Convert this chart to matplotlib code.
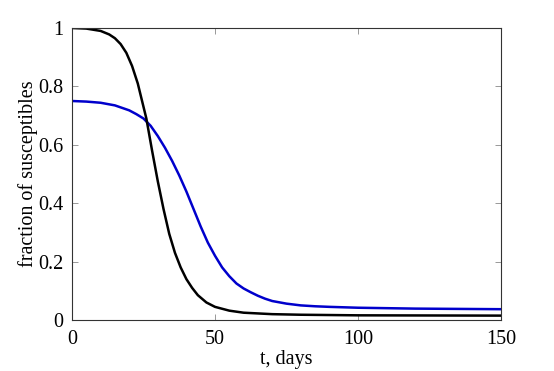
import matplotlib
matplotlib.use("Agg")
import matplotlib.pyplot as plt

t_black = [0, 5, 10, 13, 15, 17, 19, 21, 23, 24.5, 26, 28, 30, 32, 34, 36, 38, 40, 42, 44, 47, 50, 55, 60, 70, 80, 100, 150]
s_black = [1.0, 0.998, 0.99, 0.978, 0.965, 0.945, 0.915, 0.87, 0.81, 0.75, 0.69, 0.58, 0.475, 0.38, 0.295, 0.23, 0.18, 0.14, 0.11, 0.085, 0.06, 0.045, 0.032, 0.025, 0.02, 0.018, 0.016, 0.015]

t_blue = [0, 5, 10, 15, 20, 22.5, 25, 27.5, 30, 32.5, 35, 37.5, 40, 42.5, 45, 47.5, 50, 52.5, 55, 57.5, 60, 62.5, 65, 67.5, 70, 75, 80, 85, 90, 100, 120, 150]
s_blue = [0.75, 0.748, 0.744, 0.735, 0.718, 0.705, 0.69, 0.665, 0.63, 0.59, 0.545, 0.495, 0.44, 0.38, 0.32, 0.265, 0.22, 0.18, 0.15, 0.125, 0.108, 0.095, 0.083, 0.073, 0.065, 0.056, 0.05, 0.047, 0.045, 0.042, 0.039, 0.037]

x_ticks = [0, 50, 100, 150]
y_ticks = [0, 0.2, 0.4, 0.6, 0.8, 1]
y_tick_labels = ["0", "0.2", "0.4", "0.6", "0.8", "1"]

plt.rcParams['font.family'] = ['Liberation Serif', 'DejaVu Serif']

fig = plt.figure(figsize=(5.54, 3.71), dpi=100)
ax = fig.add_axes([72/554, 1 - 320/371, (501-72)/554, (320-28)/371])

ax.plot(t_blue, s_blue, color='#0000cc', lw=1.8, solid_joinstyle='round')
ax.plot(t_black, s_black, color='black', lw=1.8, solid_joinstyle='round')

ax.set_xlim(0, 150)
ax.set_ylim(0, 1)
ax.set_xticks(x_ticks)
ax.set_yticks(y_ticks)
ax.set_yticklabels(y_tick_labels)
ax.tick_params(direction='in', length=4, width=0.6, color='#888888',
               top=True, right=True, labelsize=14.5)
ax.tick_params(axis='x', pad=7)
ax.tick_params(axis='y', pad=6)
for sp in ax.spines.values():
    sp.set_linewidth(0.8)
    sp.set_color('#333333')

ax.set_xlabel('t, days', fontsize=14.5, labelpad=1)
ax.set_ylabel('fraction of susceptibles', fontsize=14.5, labelpad=0)

fig.savefig('out.png', dpi=100)
